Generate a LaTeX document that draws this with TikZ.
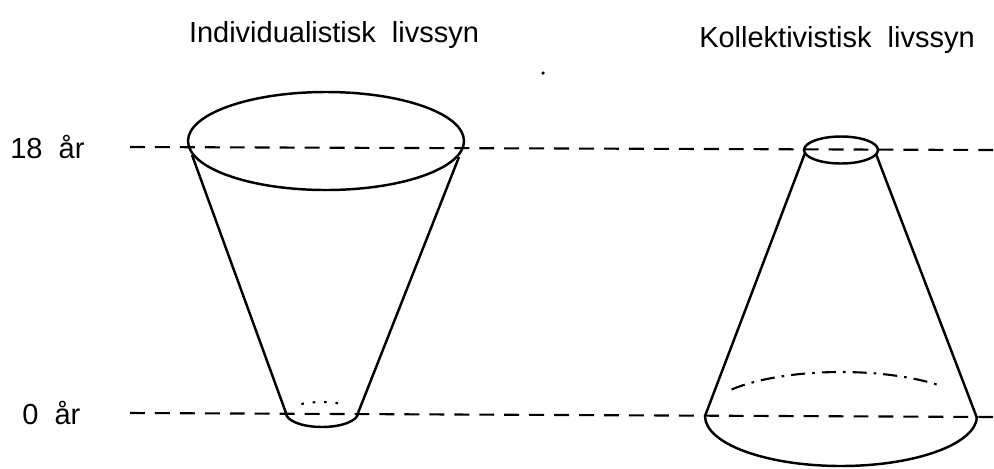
\documentclass[tikz,border=0pt]{standalone}
\usepackage{fontspec}
\setmainfont{Liberation Sans}
\begin{document}
\begin{tikzpicture}[x=0.02cm,y=-0.02cm,
  lbl/.style={inner sep=0pt,font=\fontsize{16.5}{19}\selectfont},
  outline/.style={line width=1.4pt},
  level/.style={line width=1.2pt,dash pattern=on 8.5pt off 5.7pt},
  backdots/.style={line width=1.2pt,dash pattern=on 1.5pt off 5pt},
  backdashdot/.style={line width=1.2pt,dash pattern=on 8pt off 4pt on 1.5pt off 4pt}]
\useasboundingbox (0,0) rectangle (994,468);
% titles
\node[lbl] (t1) at (334,35) {Individualistisk\ \ livssyn};
\node[lbl] (t2) at (837,40) {Kollektivistisk\ \ livssyn};
% age labels
\node[lbl,anchor=west] (a18) at (10,147) {18\ \ år};
\node[lbl,anchor=west] (a0) at (22,413) {0\ \ år};
% level lines
\coordinate (l18a) at (130,147);
\coordinate (l18b) at (994,150);
\coordinate (l0a) at (130,413);
\coordinate (l0b) at (994,417);
\draw[level] (l18a) -- (l18b);
\draw[level] (l0a) -- (l0b);
% speck
\fill (543,73) circle (1pt);
% left cone
\draw[outline] (326,141) ellipse [x radius=138, y radius=49];
\coordinate (L1) at (192,155);
\coordinate (L2) at (459,157);
\coordinate (L3) at (286,413);
\coordinate (L4) at (358,413);
\draw[outline] (L1) -- (L3);
\draw[outline] (L2) -- (L4);
\draw[outline] (L3) arc [start angle=180, end angle=0, x radius=36, y radius=14];
\draw[backdots] (322,413) ++(235:36 and 11) arc [start angle=235, end angle=300, x radius=36, y radius=11];
% right cone
\draw[outline] (841,150) ellipse [x radius=37, y radius=13.5];
\coordinate (R1) at (805,153);
\coordinate (R2) at (876,154);
\coordinate (R3) at (705,416);
\coordinate (R4) at (977,418);
\draw[outline] (R1) -- (R3);
\draw[outline] (R2) -- (R4);
\draw[outline] (R3) arc [start angle=180, end angle=0, x radius=136, y radius=50];
\draw[backdashdot] (841,416) ++(217:137 and 44) arc [start angle=217, end angle=318, x radius=137, y radius=44];
\end{tikzpicture}
\end{document}
